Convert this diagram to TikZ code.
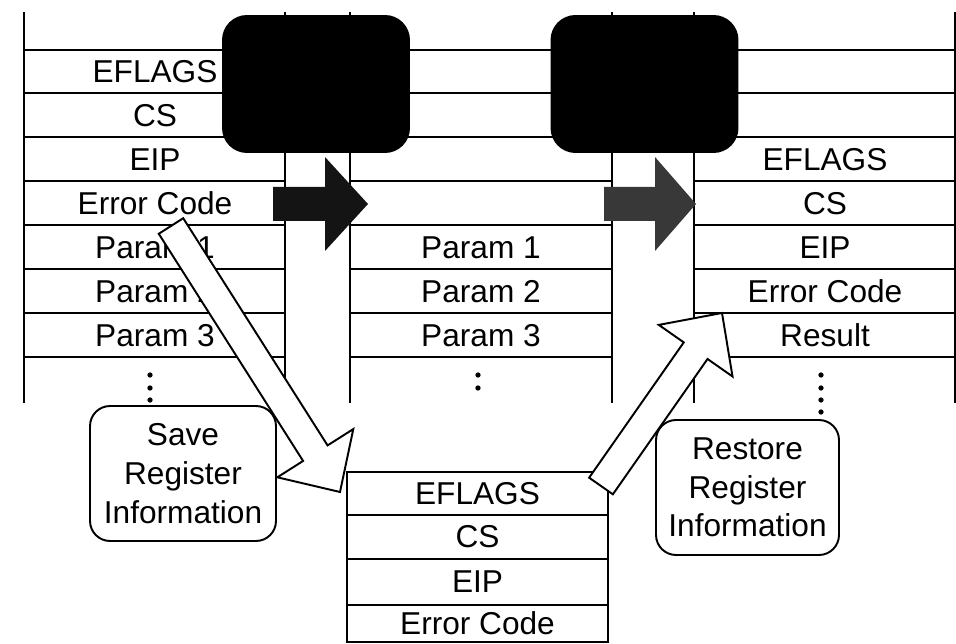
\documentclass[tikz,border=0pt]{standalone}
\usepackage{fontspec}
\setmainfont{Liberation Sans}
\usetikzlibrary{calc}

\newcommand{\fatarrow}[6][]{%
  \coordinate (fb) at ($(#3)!#6!(#2)$);
  \draw[#1] ($(#2)!#4!90:(#3)$) -- ($(fb)!#4!90:(#3)$) -- ($(fb)!#5!90:(#3)$) -- (#3)
    -- ($(fb)!#5!-90:(#3)$) -- ($(fb)!#4!-90:(#3)$) -- ($(#2)!#4!-90:(#3)$) -- cycle;
}

\begin{document}
\begin{tikzpicture}
    [x=0.02cm,y=-0.02cm,line width=1.1pt,
     every node/.style={font=\fontsize{18}{22}\selectfont, inner sep=0pt},
     gate/.style={fill=black, rounded corners=0.5cm, minimum width=3.76cm, minimum height=2.76cm},
     note/.style={draw, fill=white, rounded corners=0.4cm, align=center, minimum height=2.7cm},
     hollow/.style={draw, fill=white, line join=miter}]
  \useasboundingbox (0,0) rectangle (956,644);

  \foreach \y in {50,93,137}
    \draw (24,\y) -- (955,\y);
  \foreach \y in {181,225,269,313,357}
    \draw (24,\y) -- (285,\y) (350,\y) -- (612,\y) (694,\y) -- (955,\y);
  \foreach \x in {24,285,350,612,694,955}
    \draw (\x,12) -- (\x,403);

  \foreach \t [count=\i] in {EFLAGS,CS,EIP,Error Code,Param 1,Param 2,Param 3}
    \node (l\i) at (155,{28+43.9*\i}) {\t};
  \foreach \t [count=\i from 5] in {Param 1,Param 2,Param 3}
    \node (m\i) at (481,{28+43.9*\i}) {\t};
  \foreach \t [count=\i from 3] in {EFLAGS,CS,EIP,Error Code,Result}
    \node (r\i) at (825,{28+43.9*\i}) {\t};

  \foreach \y in {375,388,400}
    \fill (150,\y) circle[radius=1.5pt];
  \foreach \y in {375,388}
    \fill (478,\y) circle[radius=1.5pt];
  \foreach \y in {375,388,400,412}
    \fill (821,\y) circle[radius=1.5pt];

  \node[gate] (g1) at (316,84) {};
  \node[gate] (g2) at (644.5,84) {};

  \coordinate (a1) at (273,204);
  \coordinate (a2) at (368,204);
  \coordinate (a3) at (604,204);
  \coordinate (a4) at (696,204);
  \fatarrow[fill=black!92,draw=none]{a1}{a2}{0.34cm}{0.94cm}{0.86cm}
  \fatarrow[fill=black!78,draw=none]{a3}{a4}{0.34cm}{0.94cm}{0.82cm}

  \draw (347,472) rectangle (608,642);
  \foreach \y in {515,559,605}
    \draw (347,\y) -- (608,\y);
  \node (b1) at (477.5,493.5) {EFLAGS};
  \node (b2) at (477.5,537) {CS};
  \node (b3) at (477.5,582) {EIP};
  \node (b4) at (477.5,623.5) {Error Code};

  \coordinate (s1) at (171,226);
  \coordinate (s2) at (340,492);
  \coordinate (t1) at (601,486);
  \coordinate (t2) at (722,313);
  \fatarrow[hollow]{s1}{s2}{0.29cm}{0.9cm}{0.92cm}
  \fatarrow[hollow]{t1}{t2}{0.29cm}{0.9cm}{0.92cm}

  \node[note, minimum width=3.72cm] (sv) at (183,473.5) {Save\\Register\\Information};
  \node[note, minimum width=3.66cm] (rs) at (747.5,487.5) {Restore\\Register\\Information};
\end{tikzpicture}
\end{document}
